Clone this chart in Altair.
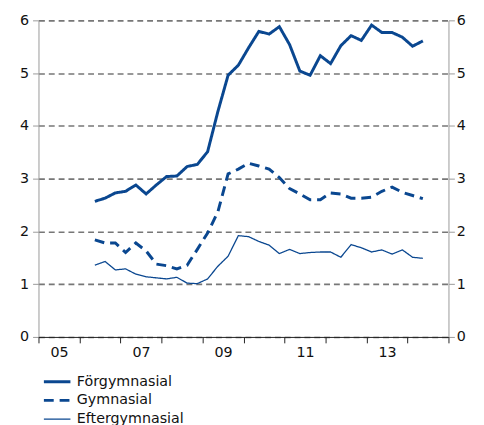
import altair as alt
import pandas as pd

series_names = ["Förgymnasial", "Gymnasial", "Eftergymnasial"]
start_year = 2006.375  # first quarter shown (mid-2006)
forgym = [2.57, 2.63, 2.73, 2.76, 2.88, 2.71, 2.88, 3.04, 3.05, 3.23, 3.27, 3.51,
          4.27, 4.96, 5.15, 5.48, 5.79, 5.74, 5.88, 5.54, 5.04, 4.96, 5.33, 5.18,
          5.52, 5.71, 5.62, 5.91, 5.77, 5.77, 5.68, 5.51, 5.61]
gym = [1.84, 1.78, 1.78, 1.60, 1.78, 1.63, 1.38, 1.35, 1.29, 1.36, 1.66, 1.97,
       2.37, 3.09, 3.18, 3.29, 3.24, 3.18, 3.02, 2.81, 2.71, 2.60, 2.60, 2.73,
       2.71, 2.63, 2.63, 2.65, 2.76, 2.84, 2.74, 2.68, 2.62]
efter = [1.36, 1.43, 1.27, 1.29, 1.19, 1.14, 1.12, 1.10, 1.13, 1.02, 1.01, 1.10,
         1.34, 1.53, 1.92, 1.90, 1.81, 1.74, 1.58, 1.66, 1.58, 1.60, 1.61, 1.61,
         1.51, 1.75, 1.69, 1.61, 1.65, 1.57, 1.65, 1.51, 1.49]
year_ticks = list(range(2005, 2016))
y_ticks = [0, 1, 2, 3, 4, 5, 6]

rows = []
for name, vals in zip(series_names, [forgym, gym, efter]):
    for i, v in enumerate(vals):
        rows.append({"t": start_year + 0.25 * i, "value": v, "series": name})
df = pd.DataFrame(rows)

BLUE = "#0a4790"
xscale = alt.Scale(domain=[2005, 2015], nice=False, zero=False)
yscale = alt.Scale(domain=[0, 6], nice=False)

x_axis = alt.Axis(
    values=year_ticks,
    labelExpr="(datum.value % 2 == 1 && datum.value < 2015) ? slice(toString(datum.value), 2) : ''",
    labelOffset=20.85, labelFlush=False, labelOverlap=False, labelBound=False, grid=False,
    tickSize=6, tickColor="#222", domainColor="#222", labelPadding=3,
    title=None, zindex=1,
)

leg = alt.Legend(orient="none", legendX=4, legendY=358, title=None,
                 symbolType="stroke", symbolSize=729, symbolStrokeColor=BLUE,
                 labelFontSize=14.5, labelColor="#111", padding=0,
                 clipHeight=19, rowPadding=0, labelOffset=5)

lines = alt.Chart(df).mark_line(color=BLUE).encode(
    x=alt.X("t:Q", scale=xscale, axis=x_axis),
    y=alt.Y("value:Q", scale=yscale, axis=alt.Axis(
        values=y_ticks, grid=True, gridDash=[6, 4], gridColor="#777", gridWidth=1.6,
        domainColor="#999", tickColor="#999", tickSize=6, labelPadding=4, title=None)),
    strokeDash=alt.StrokeDash("series:N", sort=series_names,
        scale=alt.Scale(domain=series_names, range=[[1, 0], [10, 6], [1, 0]]),
        legend=leg),
    strokeWidth=alt.StrokeWidth("series:N", sort=series_names,
        scale=alt.Scale(type="ordinal", domain=series_names, range=[3, 3, 1.3]),
        legend=leg),
    detail="series:N",
)

right = alt.Chart(df).mark_line(opacity=0).encode(
    x=alt.X("t:Q", scale=xscale, axis=x_axis),
    y=alt.Y("value:Q", scale=yscale, axis=alt.Axis(
        orient="right", values=y_ticks, grid=False, domainColor="#999",
        tickColor="#999", tickSize=6, labelPadding=2, title=None)),
    detail="series:N",
)

chart = alt.layer(lines, right).resolve_scale(y="independent").properties(
    width=417, height=322,
    autosize=alt.AutoSizeParams(type="none"),
    padding={"left": 31, "top": 9, "right": 28, "bottom": 86},
).configure(font="DejaVu Sans").configure_axis(
    labelFontSize=14.5, labelColor="#111", labelFont="DejaVu Sans"
).configure_legend(labelFont="DejaVu Sans").configure_view(stroke=None)

chart.save("out.html", embed_options={"renderer": "svg", "actions": False})
